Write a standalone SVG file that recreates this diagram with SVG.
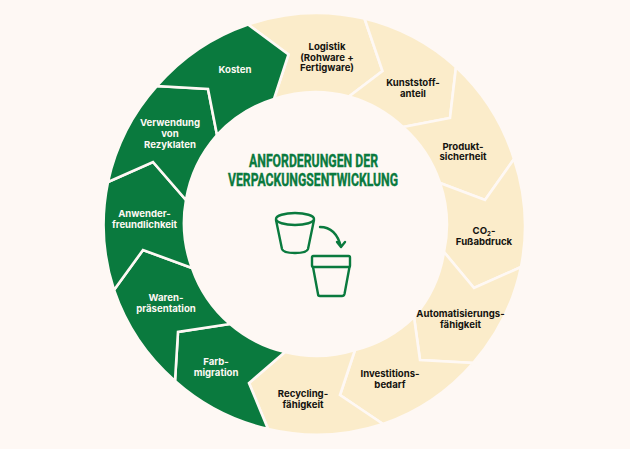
<svg xmlns="http://www.w3.org/2000/svg" width="630" height="449" viewBox="0 0 630 449">
<style>
.g{fill:#0a7a3e;stroke:#fef8f4;stroke-width:2.6;stroke-linejoin:miter}
.c{fill:#fbecca;stroke:#fef8f4;stroke-width:2.6;stroke-linejoin:miter}
text{font-family:"Inter","Liberation Sans",sans-serif;font-size:9.6px;font-weight:700;text-anchor:middle}
.d{fill:#14130f}.w{fill:#fef8f4}
.h{font-family:"Roboto","Liberation Sans",sans-serif;font-size:18px;font-weight:700;fill:#0a7a3e;stroke:#0a7a3e;stroke-width:.4}
.i{fill:none;stroke:#0a7a3e;stroke-width:2.4;stroke-linecap:round;stroke-linejoin:round}
</style>
<rect width="630" height="449" fill="#fef8f4"/>
<g id="node-logistik"><path class="c" d="M248 24.500A211 211 0 0 1 364.500 18.500L382.500 71L349 96.500A130 130 0 0 0 274 99L288.500 54.500Z"/>
<text class="d" x="327" y="50">Logistik</text><text class="d" x="327" y="60.700">(Rohware +</text><text class="d" x="327" y="71.400">Fertigware)</text></g>
<g id="node-kunststoff"><path class="c" d="M364.500 18.500A211 211 0 0 1 456 67L450 118L403 127A130 130 0 0 0 349 96.500L382.500 71Z"/>
<text class="d" x="413" y="86">Kunststoff-</text><text class="d" x="413" y="97">anteil</text></g>
<g id="node-produkt"><path class="c" d="M456 67A211 211 0 0 1 514 159L485 200L440 183A130 130 0 0 0 403 127L450 118Z"/>
<text class="d" x="463" y="149.500">Produkt-</text><text class="d" x="463" y="160">sicherheit</text></g>
<g id="node-co2"><path class="c" d="M514 159A211 211 0 0 1 521 267L474 288L444 252A130 130 0 0 0 440 183L485 200Z"/>
<text class="d" x="484" y="234">CO<tspan font-size="6" dy="2">2</tspan><tspan dy="-2">-</tspan></text><text class="d" x="484" y="245">Fußabdruck</text></g>
<g id="node-auto"><path class="c" d="M521 267A211 211 0 0 1 473 363L420 360L414 317A130 130 0 0 0 444 252L474 288Z"/>
<text class="d" x="460.500" y="317">Automatisierungs-</text><text class="d" x="460.500" y="328">fähigkeit</text></g>
<g id="node-invest"><path class="c" d="M473 363A211 211 0 0 1 383 424L340 395L355 350A130 130 0 0 0 414 317L420 360Z"/>
<text class="d" x="390" y="377">Investitions-</text><text class="d" x="390" y="388">bedarf</text></g>
<g id="node-recycling"><path class="c" d="M383 424A211 211 0 0 1 268 429L249 383L285 352A130 130 0 0 0 355 350L340 395Z"/>
<text class="d" x="303" y="397">Recycling-</text><text class="d" x="303" y="408">fähigkeit</text></g>
<g id="node-farb"><path class="g" d="M268 429A211 211 0 0 1 175 381L178 332L230 324A130 130 0 0 0 285 352L249 383Z"/>
<text class="w" x="216" y="365">Farb-</text><text class="w" x="216" y="376">migration</text></g>
<g id="node-waren"><path class="g" d="M175 381A211 211 0 0 1 114 290L143 250L192 268A130 130 0 0 0 230 324L178 332Z"/>
<text class="w" x="166" y="301">Waren-</text><text class="w" x="166" y="312">präsentation</text></g>
<g id="node-anwender"><path class="g" d="M114 290A211 211 0 0 1 108 182L153 162L186 200A130 130 0 0 0 192 268L143 250Z"/>
<text class="w" x="144.500" y="217">Anwender-</text><text class="w" x="144.500" y="227.500">freundlichkeit</text></g>
<g id="node-verwendung"><path class="g" d="M108 182A211 211 0 0 1 157 86L208 89L217 135A130 130 0 0 0 186 200L153 162Z"/>
<text class="w" x="170" y="126">Verwendung</text><text class="w" x="170" y="137">von</text><text class="w" x="170" y="147.500">Rezyklaten</text></g>
<g id="node-kosten"><path class="g" d="M157 86A211 211 0 0 1 248 24.500L288.500 54.500L274 99A130 130 0 0 0 217 135L208 89Z"/>
<text class="w" x="235" y="73">Kosten</text></g>
<g id="title">
<text class="h" x="313.500" y="167" textLength="129" lengthAdjust="spacingAndGlyphs">ANFORDERUNGEN DER</text>
<text class="h" x="313" y="186" textLength="170" lengthAdjust="spacingAndGlyphs">VERPACKUNGSENTWICKLUNG</text>
</g>
<g id="icon">
<ellipse class="i" cx="295" cy="219" rx="19" ry="6"/>
<path class="i" d="M276 220L282 249Q283 253 295 253Q307 253 308 249L314 220"/>
<rect class="i" x="312" y="256" width="38" height="11" rx="1.500"/>
<path class="i" d="M313 267L318 294Q318 296 320 296H342Q344 296 344.500 294L349.500 267"/>
<g id="connectors"><path class="i" d="M320 227Q336 227 341 247M337 242L341 247L345 242"/></g>
</g>
</svg>
